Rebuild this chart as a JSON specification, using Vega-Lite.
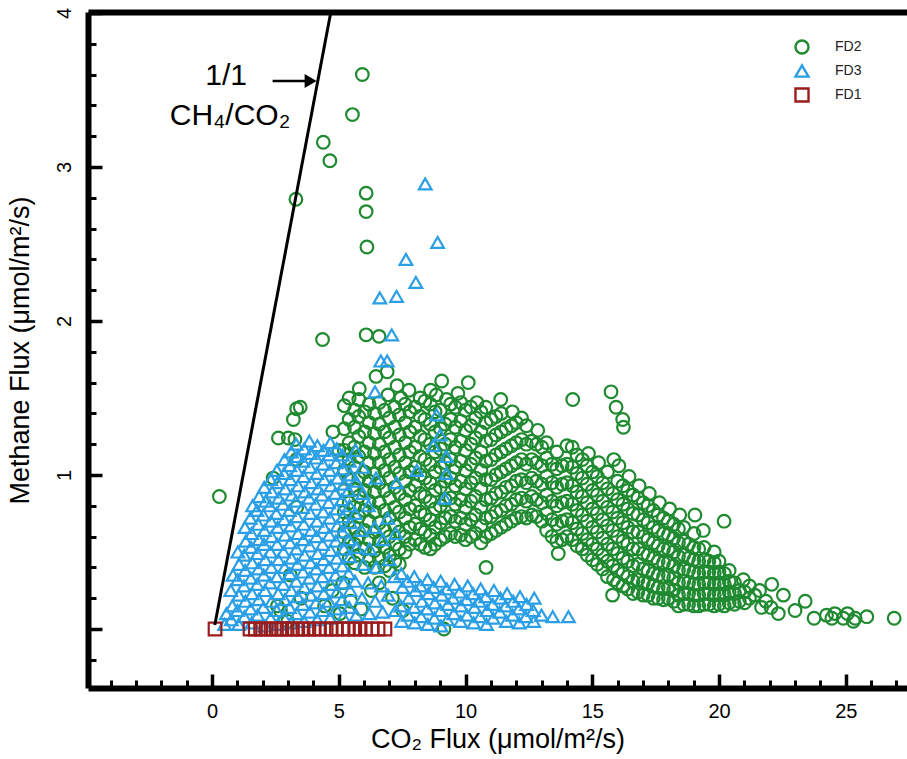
{
"$schema":"https://vega.github.io/schema/vega-lite/v6.json",
"width":819,"height":676,
"autosize":{"type":"none"},
"padding":{"left":88,"top":12,"right":0,"bottom":71},
"background":"white",
"config":{"view":{"stroke":null},"font":"Liberation Sans","axis":{"grid":false,"labelColor":"#000","titleColor":"#000","labelFont":"Liberation Sans","titleFont":"Liberation Sans","titleFontWeight":"normal","domainColor":"#000","tickColor":"#000","labelFlush":false,"labelOverlap":false}},
"datasets":{
"pts":[
{"s":"FD2","x":5.93,"y":3.6},{"s":"FD2","x":5.54,"y":3.34},{"s":"FD2","x":4.39,"y":3.16},{"s":"FD2","x":4.65,"y":3.04},{"s":"FD2","x":3.31,"y":2.79},{"s":"FD2","x":6.08,"y":2.83},{"s":"FD2","x":6.08,"y":2.71},{"s":"FD2","x":6.11,"y":2.48},{"s":"FD2","x":4.36,"y":1.88},{"s":"FD2","x":6.08,"y":1.91},{"s":"FD2","x":6.59,"y":1.9},{"s":"FD2","x":6.91,"y":1.67},{"s":"FD2","x":6.47,"y":1.64},{"s":"FD2","x":5.81,"y":1.56},{"s":"FD2","x":3.48,"y":1.44},{"s":"FD2","x":6.94,"y":1.52},{"s":"FD2","x":7.77,"y":1.55},{"s":"FD2","x":8.62,"y":1.55},{"s":"FD2","x":9.06,"y":1.61},{"s":"FD2","x":10.11,"y":1.6},{"s":"FD2","x":9.25,"y":1.49},{"s":"FD2","x":11.39,"y":1.49},{"s":"FD2","x":14.23,"y":1.49},{"s":"FD2","x":15.74,"y":1.54},{"s":"FD2","x":15.94,"y":1.44},{"s":"FD2","x":16.2,"y":1.36},{"s":"FD2","x":16.23,"y":1.31},{"s":"FD2","x":13.66,"y":0.49},{"s":"FD2","x":10.81,"y":0.4},{"s":"FD2","x":15.84,"y":0.32},{"s":"FD2","x":15.8,"y":0.22},{"s":"FD2","x":20.2,"y":0.7},{"s":"FD2","x":0.29,"y":0.86},{"s":"FD2","x":3.34,"y":1.43},{"s":"FD2","x":3.21,"y":1.36},{"s":"FD2","x":2.62,"y":1.24},{"s":"FD2","x":3.01,"y":1.24},{"s":"FD2","x":3.27,"y":1.23},{"s":"FD2","x":3.34,"y":1.1},{"s":"FD2","x":2.41,"y":0.98},{"s":"FD2","x":9.15,"y":0.0},
{"s":"FD2","x":19.05,"y":0.74},{"s":"FD2","x":19.38,"y":0.64},{"s":"FD2","x":22.54,"y":0.22},{"s":"FD2","x":22.34,"y":0.1},{"s":"FD2","x":23.4,"y":0.18},{"s":"FD2","x":23.75,"y":0.07},{"s":"FD2","x":24.57,"y":0.1},{"s":"FD2","x":24.9,"y":0.07},{"s":"FD2","x":25.3,"y":0.05},{"s":"FD2","x":25.83,"y":0.08},{"s":"FD2","x":26.91,"y":0.07},{"s":"FD2","x":24.45,"y":0.07},{"s":"FD2","x":25.37,"y":0.07},{"s":"FD2","x":22.08,"y":0.29},{"s":"FD2","x":21.68,"y":0.14},{"s":"FD2","x":20.96,"y":0.32},{"s":"FD2","x":23.0,"y":0.12},{"s":"FD2","x":25.07,"y":0.1},{"s":"FD2","x":24.24,"y":0.09},
{"s":"FD2","x":2.7,"y":0.12},{"s":"FD2","x":2.99,"y":0.05},{"s":"FD2","x":3.51,"y":0.2},{"s":"FD2","x":4.44,"y":0.15},{"s":"FD2","x":4.75,"y":0.25},{"s":"FD2","x":5.16,"y":0.3},{"s":"FD2","x":5.05,"y":0.1},{"s":"FD2","x":3.09,"y":0.35},{"s":"FD2","x":5.47,"y":0.18},{"s":"FD2","x":5.88,"y":0.13},{"s":"FD2","x":6.29,"y":0.25},{"s":"FD2","x":3.34,"y":0.79},{"s":"FD2","x":2.58,"y":0.15},{"s":"FD2","x":6.6,"y":0.3},{"s":"FD2","x":7.12,"y":0.2},{"s":"FD2","x":7.53,"y":0.12},
{"s":"FD2","x":4.77,"y":1.28},{"s":"FD2","x":5.0,"y":1.16},
{"s":"FD2","x":5.22,"y":0.52},{"s":"FD2","x":5.22,"y":0.63},{"s":"FD2","x":5.22,"y":0.76},{"s":"FD2","x":5.22,"y":0.9},{"s":"FD2","x":5.22,"y":1.03},{"s":"FD2","x":5.22,"y":1.16},{"s":"FD2","x":5.22,"y":1.3},{"s":"FD2","x":5.22,"y":1.45},
{"s":"FD2","x":5.41,"y":0.46},{"s":"FD2","x":5.41,"y":0.57},{"s":"FD2","x":5.41,"y":0.7},{"s":"FD2","x":5.41,"y":0.82},{"s":"FD2","x":5.41,"y":0.97},{"s":"FD2","x":5.41,"y":1.1},{"s":"FD2","x":5.41,"y":1.21},{"s":"FD2","x":5.41,"y":1.36},{"s":"FD2","x":5.41,"y":1.5},
{"s":"FD2","x":5.62,"y":0.43},{"s":"FD2","x":5.62,"y":0.55},{"s":"FD2","x":5.62,"y":0.66},{"s":"FD2","x":5.62,"y":0.79},{"s":"FD2","x":5.62,"y":0.91},{"s":"FD2","x":5.62,"y":1.05},{"s":"FD2","x":5.62,"y":1.18},{"s":"FD2","x":5.62,"y":1.31},{"s":"FD2","x":5.62,"y":1.42},
{"s":"FD2","x":5.79,"y":0.48},{"s":"FD2","x":5.79,"y":0.6},{"s":"FD2","x":5.79,"y":0.73},{"s":"FD2","x":5.79,"y":0.86},{"s":"FD2","x":5.79,"y":0.98},{"s":"FD2","x":5.79,"y":1.12},{"s":"FD2","x":5.79,"y":1.25},{"s":"FD2","x":5.79,"y":1.38},{"s":"FD2","x":5.79,"y":1.49},
{"s":"FD2","x":6.02,"y":0.4},{"s":"FD2","x":6.02,"y":0.52},{"s":"FD2","x":6.02,"y":0.64},{"s":"FD2","x":6.02,"y":0.77},{"s":"FD2","x":6.02,"y":0.9},{"s":"FD2","x":6.02,"y":1.02},{"s":"FD2","x":6.02,"y":1.15},{"s":"FD2","x":6.02,"y":1.28},{"s":"FD2","x":6.02,"y":1.41},
{"s":"FD2","x":6.2,"y":0.45},{"s":"FD2","x":6.2,"y":0.58},{"s":"FD2","x":6.2,"y":0.7},{"s":"FD2","x":6.2,"y":0.83},{"s":"FD2","x":6.2,"y":0.96},{"s":"FD2","x":6.2,"y":1.08},{"s":"FD2","x":6.2,"y":1.21},{"s":"FD2","x":6.2,"y":1.34},{"s":"FD2","x":6.2,"y":1.46},
{"s":"FD2","x":6.41,"y":0.4},{"s":"FD2","x":6.41,"y":0.51},{"s":"FD2","x":6.41,"y":0.63},{"s":"FD2","x":6.41,"y":0.76},{"s":"FD2","x":6.41,"y":0.89},{"s":"FD2","x":6.41,"y":1.01},{"s":"FD2","x":6.41,"y":1.14},{"s":"FD2","x":6.41,"y":1.27},{"s":"FD2","x":6.41,"y":1.4},
{"s":"FD2","x":6.6,"y":0.46},{"s":"FD2","x":6.6,"y":0.57},{"s":"FD2","x":6.6,"y":0.69},{"s":"FD2","x":6.6,"y":0.82},{"s":"FD2","x":6.6,"y":0.95},{"s":"FD2","x":6.6,"y":1.08},{"s":"FD2","x":6.6,"y":1.2},{"s":"FD2","x":6.6,"y":1.33},{"s":"FD2","x":6.6,"y":1.47},
{"s":"FD2","x":6.81,"y":0.41},{"s":"FD2","x":6.81,"y":0.53},{"s":"FD2","x":6.81,"y":0.64},{"s":"FD2","x":6.81,"y":0.77},{"s":"FD2","x":6.81,"y":0.9},{"s":"FD2","x":6.81,"y":1.03},{"s":"FD2","x":6.81,"y":1.15},{"s":"FD2","x":6.81,"y":1.28},{"s":"FD2","x":6.81,"y":1.42},
{"s":"FD2","x":7.0,"y":0.38},{"s":"FD2","x":7.0,"y":0.48},{"s":"FD2","x":7.0,"y":0.6},{"s":"FD2","x":7.0,"y":0.72},{"s":"FD2","x":7.0,"y":0.85},{"s":"FD2","x":7.0,"y":0.98},{"s":"FD2","x":7.0,"y":1.1},{"s":"FD2","x":7.0,"y":1.24},{"s":"FD2","x":7.0,"y":1.37},
{"s":"FD2","x":7.21,"y":0.44},{"s":"FD2","x":7.21,"y":0.55},{"s":"FD2","x":7.21,"y":0.67},{"s":"FD2","x":7.21,"y":0.79},{"s":"FD2","x":7.21,"y":0.92},{"s":"FD2","x":7.21,"y":1.05},{"s":"FD2","x":7.21,"y":1.18},{"s":"FD2","x":7.21,"y":1.31},{"s":"FD2","x":7.21,"y":1.44},{"s":"FD2","x":7.3,"y":1.58},
{"s":"FD2","x":7.39,"y":0.42},{"s":"FD2","x":7.39,"y":0.52},{"s":"FD2","x":7.39,"y":0.63},{"s":"FD2","x":7.39,"y":0.76},{"s":"FD2","x":7.39,"y":0.88},{"s":"FD2","x":7.39,"y":1.01},{"s":"FD2","x":7.39,"y":1.13},{"s":"FD2","x":7.39,"y":1.26},{"s":"FD2","x":7.39,"y":1.39},{"s":"FD2","x":7.45,"y":1.5},
{"s":"FD2","x":7.62,"y":0.5},{"s":"FD2","x":7.62,"y":0.6},{"s":"FD2","x":7.62,"y":0.72},{"s":"FD2","x":7.62,"y":0.84},{"s":"FD2","x":7.62,"y":0.96},{"s":"FD2","x":7.62,"y":1.08},{"s":"FD2","x":7.62,"y":1.21},{"s":"FD2","x":7.62,"y":1.34},{"s":"FD2","x":7.62,"y":1.46},
{"s":"FD2","x":7.8,"y":0.55},{"s":"FD2","x":7.8,"y":0.66},{"s":"FD2","x":7.8,"y":0.78},{"s":"FD2","x":7.8,"y":0.9},{"s":"FD2","x":7.8,"y":1.02},{"s":"FD2","x":7.8,"y":1.15},{"s":"FD2","x":7.8,"y":1.28},{"s":"FD2","x":7.8,"y":1.41},
{"s":"FD2","x":8.01,"y":0.58},{"s":"FD2","x":8.01,"y":0.68},{"s":"FD2","x":8.01,"y":0.8},{"s":"FD2","x":8.01,"y":0.93},{"s":"FD2","x":8.01,"y":1.05},{"s":"FD2","x":8.01,"y":1.18},{"s":"FD2","x":8.01,"y":1.31},{"s":"FD2","x":8.01,"y":1.44},
{"s":"FD2","x":8.21,"y":0.55},{"s":"FD2","x":8.21,"y":0.65},{"s":"FD2","x":8.21,"y":0.76},{"s":"FD2","x":8.21,"y":0.88},{"s":"FD2","x":8.21,"y":1.0},{"s":"FD2","x":8.21,"y":1.12},{"s":"FD2","x":8.21,"y":1.25},{"s":"FD2","x":8.21,"y":1.38},{"s":"FD2","x":8.21,"y":1.5},
{"s":"FD2","x":8.4,"y":0.53},{"s":"FD2","x":8.4,"y":0.63},{"s":"FD2","x":8.4,"y":0.74},{"s":"FD2","x":8.4,"y":0.86},{"s":"FD2","x":8.4,"y":0.98},{"s":"FD2","x":8.4,"y":1.1},{"s":"FD2","x":8.4,"y":1.23},{"s":"FD2","x":8.4,"y":1.36},{"s":"FD2","x":8.4,"y":1.48},
{"s":"FD2","x":8.61,"y":0.52},{"s":"FD2","x":8.61,"y":0.61},{"s":"FD2","x":8.61,"y":0.71},{"s":"FD2","x":8.61,"y":0.83},{"s":"FD2","x":8.61,"y":0.95},{"s":"FD2","x":8.61,"y":1.07},{"s":"FD2","x":8.61,"y":1.2},{"s":"FD2","x":8.61,"y":1.33},{"s":"FD2","x":8.61,"y":1.46},
{"s":"FD2","x":8.8,"y":0.55},{"s":"FD2","x":8.8,"y":0.66},{"s":"FD2","x":8.8,"y":0.78},{"s":"FD2","x":8.8,"y":0.9},{"s":"FD2","x":8.8,"y":1.02},{"s":"FD2","x":8.8,"y":1.15},{"s":"FD2","x":8.8,"y":1.28},{"s":"FD2","x":8.8,"y":1.41},{"s":"FD2","x":8.85,"y":1.52},
{"s":"FD2","x":9.01,"y":0.58},{"s":"FD2","x":9.01,"y":0.69},{"s":"FD2","x":9.01,"y":0.8},{"s":"FD2","x":9.01,"y":0.92},{"s":"FD2","x":9.01,"y":1.05},{"s":"FD2","x":9.01,"y":1.17},{"s":"FD2","x":9.01,"y":1.3},{"s":"FD2","x":9.01,"y":1.42},
{"s":"FD2","x":9.2,"y":0.6},{"s":"FD2","x":9.2,"y":0.72},{"s":"FD2","x":9.2,"y":0.84},{"s":"FD2","x":9.2,"y":0.96},{"s":"FD2","x":9.2,"y":1.08},{"s":"FD2","x":9.2,"y":1.2},{"s":"FD2","x":9.2,"y":1.33},
{"s":"FD2","x":9.41,"y":0.62},{"s":"FD2","x":9.41,"y":0.73},{"s":"FD2","x":9.41,"y":0.85},{"s":"FD2","x":9.41,"y":0.98},{"s":"FD2","x":9.41,"y":1.1},{"s":"FD2","x":9.41,"y":1.23},{"s":"FD2","x":9.41,"y":1.36},{"s":"FD2","x":9.41,"y":1.46},
{"s":"FD2","x":9.6,"y":0.6},{"s":"FD2","x":9.6,"y":0.7},{"s":"FD2","x":9.6,"y":0.81},{"s":"FD2","x":9.6,"y":0.93},{"s":"FD2","x":9.6,"y":1.05},{"s":"FD2","x":9.6,"y":1.18},{"s":"FD2","x":9.6,"y":1.31},{"s":"FD2","x":9.6,"y":1.44},{"s":"FD2","x":9.7,"y":1.53},
{"s":"FD2","x":9.81,"y":0.61},{"s":"FD2","x":9.81,"y":0.72},{"s":"FD2","x":9.81,"y":0.84},{"s":"FD2","x":9.81,"y":0.96},{"s":"FD2","x":9.81,"y":1.09},{"s":"FD2","x":9.81,"y":1.22},{"s":"FD2","x":9.81,"y":1.35},{"s":"FD2","x":9.81,"y":1.47},
{"s":"FD2","x":10.0,"y":0.58},{"s":"FD2","x":10.0,"y":0.68},{"s":"FD2","x":10.0,"y":0.79},{"s":"FD2","x":10.0,"y":0.91},{"s":"FD2","x":10.0,"y":1.03},{"s":"FD2","x":10.0,"y":1.16},{"s":"FD2","x":10.0,"y":1.29},{"s":"FD2","x":10.0,"y":1.42},
{"s":"FD2","x":10.21,"y":0.6},{"s":"FD2","x":10.21,"y":0.71},{"s":"FD2","x":10.21,"y":0.83},{"s":"FD2","x":10.21,"y":0.95},{"s":"FD2","x":10.21,"y":1.07},{"s":"FD2","x":10.21,"y":1.2},{"s":"FD2","x":10.21,"y":1.32},{"s":"FD2","x":10.21,"y":1.44},
{"s":"FD2","x":10.4,"y":0.62},{"s":"FD2","x":10.4,"y":0.74},{"s":"FD2","x":10.4,"y":0.86},{"s":"FD2","x":10.4,"y":0.98},{"s":"FD2","x":10.4,"y":1.11},{"s":"FD2","x":10.4,"y":1.24},{"s":"FD2","x":10.4,"y":1.37},{"s":"FD2","x":10.45,"y":1.47},
{"s":"FD2","x":10.61,"y":0.56},{"s":"FD2","x":10.61,"y":0.67},{"s":"FD2","x":10.61,"y":0.79},{"s":"FD2","x":10.61,"y":0.91},{"s":"FD2","x":10.61,"y":1.03},{"s":"FD2","x":10.61,"y":1.15},{"s":"FD2","x":10.61,"y":1.28},{"s":"FD2","x":10.61,"y":1.41},
{"s":"FD2","x":10.8,"y":0.6},{"s":"FD2","x":10.8,"y":0.72},{"s":"FD2","x":10.8,"y":0.84},{"s":"FD2","x":10.8,"y":0.97},{"s":"FD2","x":10.8,"y":1.09},{"s":"FD2","x":10.8,"y":1.22},{"s":"FD2","x":10.8,"y":1.34},{"s":"FD2","x":10.8,"y":1.44},
{"s":"FD2","x":11.01,"y":0.62},{"s":"FD2","x":11.01,"y":0.73},{"s":"FD2","x":11.01,"y":0.85},{"s":"FD2","x":11.01,"y":0.97},{"s":"FD2","x":11.01,"y":1.1},{"s":"FD2","x":11.01,"y":1.23},{"s":"FD2","x":11.01,"y":1.36},
{"s":"FD2","x":11.2,"y":0.64},{"s":"FD2","x":11.2,"y":0.76},{"s":"FD2","x":11.2,"y":0.88},{"s":"FD2","x":11.2,"y":1.0},{"s":"FD2","x":11.2,"y":1.13},{"s":"FD2","x":11.2,"y":1.26},{"s":"FD2","x":11.2,"y":1.38},
{"s":"FD2","x":11.41,"y":0.66},{"s":"FD2","x":11.41,"y":0.77},{"s":"FD2","x":11.41,"y":0.89},{"s":"FD2","x":11.41,"y":1.02},{"s":"FD2","x":11.41,"y":1.15},{"s":"FD2","x":11.41,"y":1.28},{"s":"FD2","x":11.41,"y":1.4},
{"s":"FD2","x":11.6,"y":0.68},{"s":"FD2","x":11.6,"y":0.8},{"s":"FD2","x":11.6,"y":0.92},{"s":"FD2","x":11.6,"y":1.04},{"s":"FD2","x":11.6,"y":1.17},{"s":"FD2","x":11.6,"y":1.3},
{"s":"FD2","x":11.81,"y":0.7},{"s":"FD2","x":11.81,"y":0.81},{"s":"FD2","x":11.81,"y":0.93},{"s":"FD2","x":11.81,"y":1.06},{"s":"FD2","x":11.81,"y":1.19},{"s":"FD2","x":11.81,"y":1.32},{"s":"FD2","x":11.85,"y":1.41},
{"s":"FD2","x":12.0,"y":0.72},{"s":"FD2","x":12.0,"y":0.84},{"s":"FD2","x":12.0,"y":0.96},{"s":"FD2","x":12.0,"y":1.08},{"s":"FD2","x":12.0,"y":1.21},{"s":"FD2","x":12.0,"y":1.34},
{"s":"FD2","x":12.21,"y":0.73},{"s":"FD2","x":12.21,"y":0.85},{"s":"FD2","x":12.21,"y":0.97},{"s":"FD2","x":12.21,"y":1.1},{"s":"FD2","x":12.21,"y":1.23},{"s":"FD2","x":12.21,"y":1.37},
{"s":"FD2","x":12.4,"y":0.72},{"s":"FD2","x":12.4,"y":0.83},{"s":"FD2","x":12.4,"y":0.95},{"s":"FD2","x":12.4,"y":1.07},{"s":"FD2","x":12.4,"y":1.2},{"s":"FD2","x":12.4,"y":1.32},
{"s":"FD2","x":12.61,"y":0.74},{"s":"FD2","x":12.61,"y":0.86},{"s":"FD2","x":12.61,"y":0.98},{"s":"FD2","x":12.61,"y":1.1},{"s":"FD2","x":12.61,"y":1.22},
{"s":"FD2","x":12.8,"y":0.73},{"s":"FD2","x":12.8,"y":0.84},{"s":"FD2","x":12.8,"y":0.96},{"s":"FD2","x":12.8,"y":1.08},{"s":"FD2","x":12.8,"y":1.2},{"s":"FD2","x":12.85,"y":1.29},
{"s":"FD2","x":13.01,"y":0.7},{"s":"FD2","x":13.01,"y":0.82},{"s":"FD2","x":13.01,"y":0.94},{"s":"FD2","x":13.01,"y":1.06},{"s":"FD2","x":13.01,"y":1.18},
{"s":"FD2","x":13.2,"y":0.64},{"s":"FD2","x":13.2,"y":0.75},{"s":"FD2","x":13.2,"y":0.87},{"s":"FD2","x":13.2,"y":0.99},{"s":"FD2","x":13.2,"y":1.11},{"s":"FD2","x":13.2,"y":1.21},
{"s":"FD2","x":13.41,"y":0.6},{"s":"FD2","x":13.41,"y":0.71},{"s":"FD2","x":13.41,"y":0.83},{"s":"FD2","x":13.41,"y":0.95},{"s":"FD2","x":13.41,"y":1.07},
{"s":"FD2","x":13.6,"y":0.57},{"s":"FD2","x":13.6,"y":0.68},{"s":"FD2","x":13.6,"y":0.8},{"s":"FD2","x":13.6,"y":0.92},{"s":"FD2","x":13.6,"y":1.04},{"s":"FD2","x":13.6,"y":1.15},
{"s":"FD2","x":13.81,"y":0.58},{"s":"FD2","x":13.81,"y":0.7},{"s":"FD2","x":13.81,"y":0.82},{"s":"FD2","x":13.81,"y":0.94},{"s":"FD2","x":13.81,"y":1.06},
{"s":"FD2","x":14.0,"y":0.6},{"s":"FD2","x":14.0,"y":0.71},{"s":"FD2","x":14.0,"y":0.83},{"s":"FD2","x":14.0,"y":0.95},{"s":"FD2","x":14.0,"y":1.07},{"s":"FD2","x":14.0,"y":1.19},
{"s":"FD2","x":14.21,"y":0.58},{"s":"FD2","x":14.21,"y":0.69},{"s":"FD2","x":14.21,"y":0.81},{"s":"FD2","x":14.21,"y":0.93},{"s":"FD2","x":14.21,"y":1.05},{"s":"FD2","x":14.21,"y":1.18},
{"s":"FD2","x":14.4,"y":0.54},{"s":"FD2","x":14.4,"y":0.65},{"s":"FD2","x":14.4,"y":0.77},{"s":"FD2","x":14.4,"y":0.89},{"s":"FD2","x":14.4,"y":1.01},{"s":"FD2","x":14.4,"y":1.13},
{"s":"FD2","x":14.61,"y":0.52},{"s":"FD2","x":14.61,"y":0.62},{"s":"FD2","x":14.61,"y":0.74},{"s":"FD2","x":14.61,"y":0.86},{"s":"FD2","x":14.61,"y":0.98},{"s":"FD2","x":14.61,"y":1.1},
{"s":"FD2","x":14.8,"y":0.48},{"s":"FD2","x":14.8,"y":0.58},{"s":"FD2","x":14.8,"y":0.7},{"s":"FD2","x":14.8,"y":0.82},{"s":"FD2","x":14.8,"y":0.94},{"s":"FD2","x":14.8,"y":1.06},{"s":"FD2","x":14.85,"y":1.14},
{"s":"FD2","x":15.01,"y":0.45},{"s":"FD2","x":15.01,"y":0.55},{"s":"FD2","x":15.01,"y":0.66},{"s":"FD2","x":15.01,"y":0.78},{"s":"FD2","x":15.01,"y":0.9},{"s":"FD2","x":15.01,"y":1.02},
{"s":"FD2","x":15.2,"y":0.42},{"s":"FD2","x":15.2,"y":0.52},{"s":"FD2","x":15.2,"y":0.63},{"s":"FD2","x":15.2,"y":0.75},{"s":"FD2","x":15.2,"y":0.87},{"s":"FD2","x":15.2,"y":0.99},{"s":"FD2","x":15.25,"y":1.08},
{"s":"FD2","x":15.41,"y":0.39},{"s":"FD2","x":15.41,"y":0.48},{"s":"FD2","x":15.41,"y":0.59},{"s":"FD2","x":15.41,"y":0.71},{"s":"FD2","x":15.41,"y":0.83},{"s":"FD2","x":15.41,"y":0.95},
{"s":"FD2","x":15.6,"y":0.34},{"s":"FD2","x":15.6,"y":0.44},{"s":"FD2","x":15.6,"y":0.55},{"s":"FD2","x":15.6,"y":0.67},{"s":"FD2","x":15.6,"y":0.79},{"s":"FD2","x":15.6,"y":0.91},{"s":"FD2","x":15.6,"y":1.02},
{"s":"FD2","x":15.81,"y":0.41},{"s":"FD2","x":15.81,"y":0.52},{"s":"FD2","x":15.81,"y":0.64},{"s":"FD2","x":15.81,"y":0.76},{"s":"FD2","x":15.81,"y":0.88},{"s":"FD2","x":15.85,"y":1.1},
{"s":"FD2","x":16.0,"y":0.3},{"s":"FD2","x":16.0,"y":0.38},{"s":"FD2","x":16.0,"y":0.49},{"s":"FD2","x":16.0,"y":0.6},{"s":"FD2","x":16.0,"y":0.72},{"s":"FD2","x":16.0,"y":0.84},{"s":"FD2","x":16.0,"y":0.96},{"s":"FD2","x":16.05,"y":1.06},
{"s":"FD2","x":16.21,"y":0.28},{"s":"FD2","x":16.21,"y":0.36},{"s":"FD2","x":16.21,"y":0.46},{"s":"FD2","x":16.21,"y":0.57},{"s":"FD2","x":16.21,"y":0.69},{"s":"FD2","x":16.21,"y":0.81},{"s":"FD2","x":16.21,"y":0.93},
{"s":"FD2","x":16.4,"y":0.26},{"s":"FD2","x":16.4,"y":0.34},{"s":"FD2","x":16.4,"y":0.44},{"s":"FD2","x":16.4,"y":0.55},{"s":"FD2","x":16.4,"y":0.66},{"s":"FD2","x":16.4,"y":0.78},{"s":"FD2","x":16.4,"y":0.9},{"s":"FD2","x":16.45,"y":0.99},
{"s":"FD2","x":16.61,"y":0.23},{"s":"FD2","x":16.61,"y":0.31},{"s":"FD2","x":16.61,"y":0.41},{"s":"FD2","x":16.61,"y":0.52},{"s":"FD2","x":16.61,"y":0.63},{"s":"FD2","x":16.61,"y":0.75},{"s":"FD2","x":16.61,"y":0.87},
{"s":"FD2","x":16.8,"y":0.24},{"s":"FD2","x":16.8,"y":0.32},{"s":"FD2","x":16.8,"y":0.42},{"s":"FD2","x":16.8,"y":0.52},{"s":"FD2","x":16.8,"y":0.63},{"s":"FD2","x":16.8,"y":0.74},{"s":"FD2","x":16.8,"y":0.85},{"s":"FD2","x":16.85,"y":0.93},
{"s":"FD2","x":17.01,"y":0.22},{"s":"FD2","x":17.01,"y":0.3},{"s":"FD2","x":17.01,"y":0.39},{"s":"FD2","x":17.01,"y":0.49},{"s":"FD2","x":17.01,"y":0.6},{"s":"FD2","x":17.01,"y":0.71},{"s":"FD2","x":17.01,"y":0.82},
{"s":"FD2","x":17.2,"y":0.22},{"s":"FD2","x":17.2,"y":0.3},{"s":"FD2","x":17.2,"y":0.38},{"s":"FD2","x":17.2,"y":0.48},{"s":"FD2","x":17.2,"y":0.58},{"s":"FD2","x":17.2,"y":0.69},{"s":"FD2","x":17.2,"y":0.8},{"s":"FD2","x":17.25,"y":0.88},
{"s":"FD2","x":17.41,"y":0.2},{"s":"FD2","x":17.41,"y":0.28},{"s":"FD2","x":17.41,"y":0.36},{"s":"FD2","x":17.41,"y":0.46},{"s":"FD2","x":17.41,"y":0.56},{"s":"FD2","x":17.41,"y":0.66},{"s":"FD2","x":17.41,"y":0.77},
{"s":"FD2","x":17.6,"y":0.2},{"s":"FD2","x":17.6,"y":0.27},{"s":"FD2","x":17.6,"y":0.35},{"s":"FD2","x":17.6,"y":0.44},{"s":"FD2","x":17.6,"y":0.54},{"s":"FD2","x":17.6,"y":0.64},{"s":"FD2","x":17.6,"y":0.74},{"s":"FD2","x":17.65,"y":0.82},
{"s":"FD2","x":17.81,"y":0.19},{"s":"FD2","x":17.81,"y":0.26},{"s":"FD2","x":17.81,"y":0.34},{"s":"FD2","x":17.81,"y":0.43},{"s":"FD2","x":17.81,"y":0.52},{"s":"FD2","x":17.81,"y":0.62},{"s":"FD2","x":17.81,"y":0.72},
{"s":"FD2","x":18.0,"y":0.2},{"s":"FD2","x":18.0,"y":0.27},{"s":"FD2","x":18.0,"y":0.35},{"s":"FD2","x":18.0,"y":0.43},{"s":"FD2","x":18.0,"y":0.52},{"s":"FD2","x":18.0,"y":0.61},{"s":"FD2","x":18.0,"y":0.7},{"s":"FD2","x":18.05,"y":0.78},
{"s":"FD2","x":18.21,"y":0.18},{"s":"FD2","x":18.21,"y":0.25},{"s":"FD2","x":18.21,"y":0.33},{"s":"FD2","x":18.21,"y":0.41},{"s":"FD2","x":18.21,"y":0.5},{"s":"FD2","x":18.21,"y":0.59},{"s":"FD2","x":18.21,"y":0.68},
{"s":"FD2","x":18.4,"y":0.15},{"s":"FD2","x":18.4,"y":0.22},{"s":"FD2","x":18.4,"y":0.3},{"s":"FD2","x":18.4,"y":0.38},{"s":"FD2","x":18.4,"y":0.47},{"s":"FD2","x":18.4,"y":0.56},{"s":"FD2","x":18.4,"y":0.65},{"s":"FD2","x":18.45,"y":0.74},
{"s":"FD2","x":18.61,"y":0.16},{"s":"FD2","x":18.61,"y":0.23},{"s":"FD2","x":18.61,"y":0.31},{"s":"FD2","x":18.61,"y":0.39},{"s":"FD2","x":18.61,"y":0.48},{"s":"FD2","x":18.61,"y":0.57},{"s":"FD2","x":18.61,"y":0.66},
{"s":"FD2","x":18.8,"y":0.16},{"s":"FD2","x":18.8,"y":0.23},{"s":"FD2","x":18.8,"y":0.3},{"s":"FD2","x":18.8,"y":0.38},{"s":"FD2","x":18.8,"y":0.46},{"s":"FD2","x":18.8,"y":0.55},
{"s":"FD2","x":19.01,"y":0.15},{"s":"FD2","x":19.01,"y":0.22},{"s":"FD2","x":19.01,"y":0.29},{"s":"FD2","x":19.01,"y":0.37},{"s":"FD2","x":19.01,"y":0.45},{"s":"FD2","x":19.01,"y":0.53},{"s":"FD2","x":19.01,"y":0.62},
{"s":"FD2","x":19.2,"y":0.15},{"s":"FD2","x":19.2,"y":0.22},{"s":"FD2","x":19.2,"y":0.29},{"s":"FD2","x":19.2,"y":0.36},{"s":"FD2","x":19.2,"y":0.44},{"s":"FD2","x":19.2,"y":0.52},
{"s":"FD2","x":19.41,"y":0.16},{"s":"FD2","x":19.41,"y":0.23},{"s":"FD2","x":19.41,"y":0.3},{"s":"FD2","x":19.41,"y":0.37},{"s":"FD2","x":19.41,"y":0.45},{"s":"FD2","x":19.41,"y":0.53},
{"s":"FD2","x":19.6,"y":0.16},{"s":"FD2","x":19.6,"y":0.23},{"s":"FD2","x":19.6,"y":0.3},{"s":"FD2","x":19.6,"y":0.37},{"s":"FD2","x":19.6,"y":0.44},
{"s":"FD2","x":19.81,"y":0.15},{"s":"FD2","x":19.81,"y":0.22},{"s":"FD2","x":19.81,"y":0.29},{"s":"FD2","x":19.81,"y":0.36},{"s":"FD2","x":19.81,"y":0.43},{"s":"FD2","x":19.81,"y":0.5},
{"s":"FD2","x":20.0,"y":0.16},{"s":"FD2","x":20.0,"y":0.23},{"s":"FD2","x":20.0,"y":0.3},{"s":"FD2","x":20.0,"y":0.37},{"s":"FD2","x":20.0,"y":0.44},
{"s":"FD2","x":20.21,"y":0.15},{"s":"FD2","x":20.21,"y":0.22},{"s":"FD2","x":20.21,"y":0.29},{"s":"FD2","x":20.21,"y":0.36},
{"s":"FD2","x":20.4,"y":0.17},{"s":"FD2","x":20.4,"y":0.24},{"s":"FD2","x":20.4,"y":0.31},{"s":"FD2","x":20.4,"y":0.38},
{"s":"FD2","x":20.61,"y":0.16},{"s":"FD2","x":20.61,"y":0.23},{"s":"FD2","x":20.61,"y":0.3},
{"s":"FD2","x":20.8,"y":0.18},{"s":"FD2","x":20.8,"y":0.25},
{"s":"FD2","x":21.01,"y":0.17},{"s":"FD2","x":21.01,"y":0.24},
{"s":"FD2","x":21.2,"y":0.2},{"s":"FD2","x":21.2,"y":0.28},
{"s":"FD2","x":21.41,"y":0.22},{"s":"FD2","x":21.6,"y":0.25},{"s":"FD2","x":21.85,"y":0.18},{"s":"FD2","x":22.05,"y":0.14},
{"s":"FD3","x":0.5,"y":0.03},{"s":"FD3","x":0.57,"y":0.1},
{"s":"FD3","x":0.76,"y":0.06},{"s":"FD3","x":0.8,"y":0.15},{"s":"FD3","x":0.74,"y":0.25},{"s":"FD3","x":0.83,"y":0.35},
{"s":"FD3","x":1.05,"y":0.03},{"s":"FD3","x":1.0,"y":0.12},{"s":"FD3","x":1.06,"y":0.22},{"s":"FD3","x":1.01,"y":0.32},{"s":"FD3","x":1.07,"y":0.42},{"s":"FD3","x":1.02,"y":0.5},
{"s":"FD3","x":1.28,"y":0.08},{"s":"FD3","x":1.32,"y":0.18},{"s":"FD3","x":1.26,"y":0.28},{"s":"FD3","x":1.31,"y":0.38},{"s":"FD3","x":1.27,"y":0.48},{"s":"FD3","x":1.33,"y":0.57},{"s":"FD3","x":1.3,"y":0.66},
{"s":"FD3","x":1.57,"y":0.04},{"s":"FD3","x":1.52,"y":0.13},{"s":"FD3","x":1.58,"y":0.23},{"s":"FD3","x":1.53,"y":0.33},{"s":"FD3","x":1.59,"y":0.43},{"s":"FD3","x":1.54,"y":0.53},{"s":"FD3","x":1.56,"y":0.62},{"s":"FD3","x":1.51,"y":0.72},{"s":"FD3","x":1.6,"y":0.8},
{"s":"FD3","x":1.8,"y":0.09},{"s":"FD3","x":1.84,"y":0.19},{"s":"FD3","x":1.78,"y":0.29},{"s":"FD3","x":1.83,"y":0.39},{"s":"FD3","x":1.79,"y":0.49},{"s":"FD3","x":1.85,"y":0.58},{"s":"FD3","x":1.82,"y":0.68},{"s":"FD3","x":1.77,"y":0.77},{"s":"FD3","x":1.86,"y":0.86},
{"s":"FD3","x":2.08,"y":0.02},{"s":"FD3","x":2.03,"y":0.14},{"s":"FD3","x":2.09,"y":0.25},{"s":"FD3","x":2.04,"y":0.35},{"s":"FD3","x":2.1,"y":0.45},{"s":"FD3","x":2.05,"y":0.55},{"s":"FD3","x":2.07,"y":0.64},{"s":"FD3","x":2.02,"y":0.74},{"s":"FD3","x":2.11,"y":0.83},{"s":"FD3","x":2.06,"y":0.92},
{"s":"FD3","x":2.31,"y":0.07},{"s":"FD3","x":2.35,"y":0.18},{"s":"FD3","x":2.29,"y":0.3},{"s":"FD3","x":2.34,"y":0.4},{"s":"FD3","x":2.3,"y":0.5},{"s":"FD3","x":2.36,"y":0.6},{"s":"FD3","x":2.33,"y":0.7},{"s":"FD3","x":2.28,"y":0.8},{"s":"FD3","x":2.37,"y":0.89},{"s":"FD3","x":2.32,"y":0.97},
{"s":"FD3","x":2.6,"y":0.03},{"s":"FD3","x":2.55,"y":0.12},{"s":"FD3","x":2.61,"y":0.23},{"s":"FD3","x":2.56,"y":0.34},{"s":"FD3","x":2.62,"y":0.45},{"s":"FD3","x":2.57,"y":0.55},{"s":"FD3","x":2.59,"y":0.66},{"s":"FD3","x":2.54,"y":0.75},{"s":"FD3","x":2.63,"y":0.85},{"s":"FD3","x":2.58,"y":0.95},{"s":"FD3","x":2.56,"y":1.03},
{"s":"FD3","x":2.83,"y":0.08},{"s":"FD3","x":2.87,"y":0.19},{"s":"FD3","x":2.81,"y":0.29},{"s":"FD3","x":2.86,"y":0.4},{"s":"FD3","x":2.82,"y":0.5},{"s":"FD3","x":2.88,"y":0.61},{"s":"FD3","x":2.85,"y":0.71},{"s":"FD3","x":2.8,"y":0.81},{"s":"FD3","x":2.89,"y":0.91},{"s":"FD3","x":2.84,"y":1.01},{"s":"FD3","x":2.86,"y":1.1},
{"s":"FD3","x":3.12,"y":0.04},{"s":"FD3","x":3.06,"y":0.14},{"s":"FD3","x":3.13,"y":0.25},{"s":"FD3","x":3.07,"y":0.36},{"s":"FD3","x":3.14,"y":0.46},{"s":"FD3","x":3.08,"y":0.56},{"s":"FD3","x":3.1,"y":0.67},{"s":"FD3","x":3.05,"y":0.77},{"s":"FD3","x":3.15,"y":0.87},{"s":"FD3","x":3.09,"y":0.97},{"s":"FD3","x":3.07,"y":1.06},{"s":"FD3","x":3.13,"y":1.15},
{"s":"FD3","x":3.34,"y":0.1},{"s":"FD3","x":3.38,"y":0.21},{"s":"FD3","x":3.32,"y":0.31},{"s":"FD3","x":3.37,"y":0.42},{"s":"FD3","x":3.33,"y":0.52},{"s":"FD3","x":3.39,"y":0.62},{"s":"FD3","x":3.36,"y":0.73},{"s":"FD3","x":3.31,"y":0.83},{"s":"FD3","x":3.4,"y":0.93},{"s":"FD3","x":3.35,"y":1.03},{"s":"FD3","x":3.37,"y":1.12},{"s":"FD3","x":3.32,"y":1.2},
{"s":"FD3","x":3.63,"y":0.05},{"s":"FD3","x":3.58,"y":0.16},{"s":"FD3","x":3.64,"y":0.27},{"s":"FD3","x":3.59,"y":0.37},{"s":"FD3","x":3.65,"y":0.48},{"s":"FD3","x":3.6,"y":0.58},{"s":"FD3","x":3.62,"y":0.68},{"s":"FD3","x":3.57,"y":0.79},{"s":"FD3","x":3.66,"y":0.89},{"s":"FD3","x":3.61,"y":0.99},{"s":"FD3","x":3.59,"y":1.09},{"s":"FD3","x":3.64,"y":1.17},
{"s":"FD3","x":3.86,"y":0.11},{"s":"FD3","x":3.9,"y":0.22},{"s":"FD3","x":3.84,"y":0.33},{"s":"FD3","x":3.89,"y":0.43},{"s":"FD3","x":3.85,"y":0.54},{"s":"FD3","x":3.91,"y":0.64},{"s":"FD3","x":3.88,"y":0.75},{"s":"FD3","x":3.83,"y":0.85},{"s":"FD3","x":3.92,"y":0.95},{"s":"FD3","x":3.87,"y":1.05},{"s":"FD3","x":3.89,"y":1.14},{"s":"FD3","x":3.84,"y":1.22},
{"s":"FD3","x":4.15,"y":0.06},{"s":"FD3","x":4.1,"y":0.17},{"s":"FD3","x":4.16,"y":0.28},{"s":"FD3","x":4.11,"y":0.39},{"s":"FD3","x":4.17,"y":0.49},{"s":"FD3","x":4.12,"y":0.6},{"s":"FD3","x":4.14,"y":0.7},{"s":"FD3","x":4.09,"y":0.81},{"s":"FD3","x":4.18,"y":0.91},{"s":"FD3","x":4.13,"y":1.01},{"s":"FD3","x":4.11,"y":1.11},{"s":"FD3","x":4.16,"y":1.19},
{"s":"FD3","x":4.37,"y":0.12},{"s":"FD3","x":4.41,"y":0.23},{"s":"FD3","x":4.35,"y":0.34},{"s":"FD3","x":4.4,"y":0.45},{"s":"FD3","x":4.36,"y":0.55},{"s":"FD3","x":4.42,"y":0.66},{"s":"FD3","x":4.39,"y":0.76},{"s":"FD3","x":4.34,"y":0.87},{"s":"FD3","x":4.43,"y":0.97},{"s":"FD3","x":4.38,"y":1.07},{"s":"FD3","x":4.4,"y":1.16},
{"s":"FD3","x":4.66,"y":0.07},{"s":"FD3","x":4.61,"y":0.18},{"s":"FD3","x":4.67,"y":0.29},{"s":"FD3","x":4.62,"y":0.4},{"s":"FD3","x":4.68,"y":0.51},{"s":"FD3","x":4.63,"y":0.61},{"s":"FD3","x":4.65,"y":0.72},{"s":"FD3","x":4.6,"y":0.82},{"s":"FD3","x":4.69,"y":0.93},{"s":"FD3","x":4.64,"y":1.03},{"s":"FD3","x":4.62,"y":1.13},{"s":"FD3","x":4.67,"y":1.21},
{"s":"FD3","x":4.89,"y":0.13},{"s":"FD3","x":4.93,"y":0.24},{"s":"FD3","x":4.87,"y":0.35},{"s":"FD3","x":4.92,"y":0.46},{"s":"FD3","x":4.88,"y":0.57},{"s":"FD3","x":4.94,"y":0.67},{"s":"FD3","x":4.91,"y":0.78},{"s":"FD3","x":4.86,"y":0.88},{"s":"FD3","x":4.95,"y":0.98},{"s":"FD3","x":4.9,"y":1.08},{"s":"FD3","x":4.92,"y":1.17},
{"s":"FD3","x":5.18,"y":0.08},{"s":"FD3","x":5.13,"y":0.19},{"s":"FD3","x":5.19,"y":0.3},{"s":"FD3","x":5.14,"y":0.41},{"s":"FD3","x":5.2,"y":0.52},{"s":"FD3","x":5.15,"y":0.63},{"s":"FD3","x":5.17,"y":0.73},{"s":"FD3","x":5.12,"y":0.84},{"s":"FD3","x":5.21,"y":0.94},{"s":"FD3","x":5.16,"y":1.04},{"s":"FD3","x":5.14,"y":1.13},
{"s":"FD3","x":5.41,"y":0.14},{"s":"FD3","x":5.45,"y":0.25},{"s":"FD3","x":5.39,"y":0.36},{"s":"FD3","x":5.44,"y":0.47},{"s":"FD3","x":5.4,"y":0.58},{"s":"FD3","x":5.46,"y":0.69},{"s":"FD3","x":5.43,"y":0.8},{"s":"FD3","x":5.38,"y":0.9},{"s":"FD3","x":5.47,"y":1.0},{"s":"FD3","x":5.42,"y":1.09},
{"s":"FD3","x":5.69,"y":0.09},{"s":"FD3","x":5.64,"y":0.31},{"s":"FD3","x":5.7,"y":0.53},{"s":"FD3","x":5.65,"y":0.75},{"s":"FD3","x":5.68,"y":0.96},{"s":"FD3","x":5.67,"y":1.16},
{"s":"FD3","x":5.92,"y":0.2},{"s":"FD3","x":5.96,"y":0.42},{"s":"FD3","x":5.9,"y":0.64},{"s":"FD3","x":5.95,"y":0.88},{"s":"FD3","x":5.94,"y":1.05},
{"s":"FD3","x":6.21,"y":0.1},{"s":"FD3","x":6.16,"y":0.3},{"s":"FD3","x":6.22,"y":0.52},{"s":"FD3","x":6.17,"y":0.8},
{"s":"FD3","x":6.44,"y":0.18},{"s":"FD3","x":6.48,"y":0.4},{"s":"FD3","x":6.42,"y":0.66},{"s":"FD3","x":6.47,"y":0.98},
{"s":"FD3","x":6.73,"y":0.11},{"s":"FD3","x":6.68,"y":0.28},{"s":"FD3","x":6.74,"y":0.58},
{"s":"FD3","x":6.95,"y":0.22},{"s":"FD3","x":6.99,"y":0.45},{"s":"FD3","x":6.93,"y":0.72},
{"s":"FD3","x":7.24,"y":0.12},{"s":"FD3","x":7.19,"y":0.34},{"s":"FD3","x":7.25,"y":0.62},
{"s":"FD3","x":7.48,"y":0.05},{"s":"FD3","x":7.45,"y":0.15},{"s":"FD3","x":7.51,"y":0.27},{"s":"FD3","x":7.47,"y":0.36},
{"s":"FD3","x":7.74,"y":0.09},{"s":"FD3","x":7.76,"y":0.2},{"s":"FD3","x":7.71,"y":0.31},
{"s":"FD3","x":7.99,"y":0.04},{"s":"FD3","x":7.97,"y":0.14},{"s":"FD3","x":8.03,"y":0.25},{"s":"FD3","x":7.98,"y":0.34},
{"s":"FD3","x":8.25,"y":0.08},{"s":"FD3","x":8.28,"y":0.18},{"s":"FD3","x":8.23,"y":0.28},
{"s":"FD3","x":8.51,"y":0.03},{"s":"FD3","x":8.48,"y":0.13},{"s":"FD3","x":8.54,"y":0.23},{"s":"FD3","x":8.5,"y":0.32},
{"s":"FD3","x":8.77,"y":0.07},{"s":"FD3","x":8.79,"y":0.17},{"s":"FD3","x":8.74,"y":0.27},
{"s":"FD3","x":9.03,"y":0.02},{"s":"FD3","x":9.01,"y":0.12},{"s":"FD3","x":9.06,"y":0.22},{"s":"FD3","x":9.02,"y":0.31},
{"s":"FD3","x":9.28,"y":0.06},{"s":"FD3","x":9.31,"y":0.16},{"s":"FD3","x":9.26,"y":0.26},
{"s":"FD3","x":9.54,"y":0.1},{"s":"FD3","x":9.51,"y":0.2},{"s":"FD3","x":9.57,"y":0.29},
{"s":"FD3","x":9.8,"y":0.05},{"s":"FD3","x":9.82,"y":0.15},{"s":"FD3","x":9.77,"y":0.24},
{"s":"FD3","x":10.06,"y":0.09},{"s":"FD3","x":10.04,"y":0.19},{"s":"FD3","x":10.09,"y":0.28},
{"s":"FD3","x":10.32,"y":0.04},{"s":"FD3","x":10.35,"y":0.14},{"s":"FD3","x":10.3,"y":0.23},
{"s":"FD3","x":10.57,"y":0.08},{"s":"FD3","x":10.54,"y":0.18},{"s":"FD3","x":10.6,"y":0.26},
{"s":"FD3","x":10.83,"y":0.03},{"s":"FD3","x":10.85,"y":0.12},{"s":"FD3","x":10.8,"y":0.21},
{"s":"FD3","x":11.09,"y":0.07},{"s":"FD3","x":11.07,"y":0.16},{"s":"FD3","x":11.12,"y":0.25},
{"s":"FD3","x":11.35,"y":0.11},{"s":"FD3","x":11.38,"y":0.2},
{"s":"FD3","x":11.61,"y":0.05},{"s":"FD3","x":11.58,"y":0.15},{"s":"FD3","x":11.64,"y":0.23},
{"s":"FD3","x":11.86,"y":0.09},{"s":"FD3","x":11.88,"y":0.18},
{"s":"FD3","x":12.12,"y":0.04},{"s":"FD3","x":12.1,"y":0.13},{"s":"FD3","x":12.15,"y":0.21},
{"s":"FD3","x":12.38,"y":0.08},{"s":"FD3","x":12.41,"y":0.16},
{"s":"FD3","x":12.69,"y":0.05},{"s":"FD3","x":12.67,"y":0.12},{"s":"FD3","x":12.71,"y":0.2},
{"s":"FD3","x":13.0,"y":0.09},{"s":"FD3","x":13.44,"y":0.08},{"s":"FD3","x":14.06,"y":0.08},
{"s":"FD3","x":8.41,"y":2.89},{"s":"FD3","x":8.9,"y":2.51},{"s":"FD3","x":7.65,"y":2.4},{"s":"FD3","x":8.04,"y":2.25},{"s":"FD3","x":6.62,"y":2.15},{"s":"FD3","x":7.28,"y":2.16},{"s":"FD3","x":7.09,"y":1.91},{"s":"FD3","x":6.66,"y":1.74},{"s":"FD3","x":6.91,"y":1.74},{"s":"FD3","x":6.43,"y":1.54},{"s":"FD3","x":8.86,"y":1.39},{"s":"FD3","x":9.0,"y":1.26},{"s":"FD3","x":8.73,"y":1.19},{"s":"FD3","x":8.08,"y":1.03},{"s":"FD3","x":9.25,"y":1.01},{"s":"FD3","x":9.25,"y":1.12},{"s":"FD3","x":7.28,"y":0.95},{"s":"FD3","x":9.18,"y":0.85},
{"s":"FD1","x":0.12,"y":0},{"s":"FD1","x":1.5,"y":0},{"s":"FD1","x":1.71,"y":0},{"s":"FD1","x":1.92,"y":0},{"s":"FD1","x":2.13,"y":0},{"s":"FD1","x":2.33,"y":0},{"s":"FD1","x":2.54,"y":0},{"s":"FD1","x":2.75,"y":0},{"s":"FD1","x":2.96,"y":0},{"s":"FD1","x":3.17,"y":0},{"s":"FD1","x":3.38,"y":0},{"s":"FD1","x":3.59,"y":0},{"s":"FD1","x":3.82,"y":0},{"s":"FD1","x":4.03,"y":0},{"s":"FD1","x":4.24,"y":0},{"s":"FD1","x":4.5,"y":0},{"s":"FD1","x":4.7,"y":0},{"s":"FD1","x":4.91,"y":0},{"s":"FD1","x":5.17,"y":0},{"s":"FD1","x":5.38,"y":0},{"s":"FD1","x":5.63,"y":0},{"s":"FD1","x":5.84,"y":0},{"s":"FD1","x":6.05,"y":0},{"s":"FD1","x":6.3,"y":0},{"s":"FD1","x":6.55,"y":0},{"s":"FD1","x":6.82,"y":0}
]
},
"resolve":{"axis":{"x":"independent","y":"independent"}},
"layer":[
{"data":{"name":"pts"},
 "mark":{"type":"point","filled":false,"strokeWidth":2.2,"size":160,"opacity":1},
 "encoding":{
  "x":{"field":"x","type":"quantitative","scale":{"domain":[-4.892,27.416],"nice":false,"zero":false},
   "axis":{"orient":"bottom","values":[0,5,10,15,20,25],"ticks":false,"domain":false,"labelFontSize":20,"labelPadding":13,"title":"CO₂ Flux (μmol/m²/s)","titleFontSize":27,"titlePadding":5}},
  "y":{"field":"y","type":"quantitative","scale":{"domain":[-0.383,4.006],"nice":false,"zero":false},
   "axis":{"orient":"left","values":[1,2,3,4],"ticks":false,"domain":false,"labelFontSize":20,"labelAngle":-90,"labelAlign":"center","labelBaseline":"alphabetic","labelPadding":18,"title":"Methane Flux (μmol/m²/s)","titleFontSize":27,"titlePadding":20}},
  "color":{"field":"s","type":"nominal","scale":{"domain":["FD2","FD3","FD1"],"range":["#1f8a30","#2a9fe6","#9b1c1c"]},
   "legend":{"orient":"none","legendX":706,"legendY":27,"title":null,"labelFontSize":14,"labelColor":"#222","symbolSize":170,"symbolStrokeWidth":2.4,"rowPadding":1,"labelOffset":25,"padding":0}},
  "shape":{"field":"s","type":"nominal","scale":{"domain":["FD2","FD3","FD1"],"range":["circle","triangle-up","square"]},
   "legend":{"orient":"none","legendX":706,"legendY":27,"title":null,"labelFontSize":14,"labelColor":"#222","symbolSize":170,"symbolStrokeWidth":2.4,"rowPadding":1,"labelOffset":25,"padding":0}}
 }},
{"data":{"values":[{"x":0.11,"y":0.026,"x2":4.68,"y2":4.0}]},
 "mark":{"type":"rule","color":"black","strokeWidth":3},
 "encoding":{
  "x":{"field":"x","type":"quantitative","scale":{"domain":[-4.892,27.416],"nice":false,"zero":false},
   "axis":{"orient":"bottom","values":[0,5,10,15,20,25],"labels":false,"domain":true,"domainWidth":6,"ticks":true,"tickSize":-14,"tickWidth":3.5,"title":null}},
  "x2":{"field":"x2"},
  "y":{"field":"y","type":"quantitative","scale":{"domain":[-0.383,4.006],"nice":false,"zero":false},
   "axis":{"orient":"left","values":[0,1,2,3,4],"labels":false,"domain":true,"domainWidth":6,"ticks":true,"tickSize":-14,"tickWidth":3.5,"title":null}},
  "y2":{"field":"y2"}
 }},
{"data":{"values":[{"x":2.39,"x2":3.82,"y":3.558}]},
 "mark":{"type":"rule","color":"black","strokeWidth":2.5},
 "encoding":{
  "x":{"field":"x","type":"quantitative","scale":{"domain":[-4.892,27.416],"nice":false,"zero":false},
   "axis":{"orient":"bottom","values":[-4,-3,-2,-1,1,2,3,4,6,7,8,9,11,12,13,14,16,17,18,19,21,22,23,24,26,27],"labels":false,"domain":false,"ticks":true,"tickSize":-8,"tickWidth":3,"title":null}},
  "x2":{"field":"x2"},
  "y":{"field":"y","type":"quantitative","scale":{"domain":[-0.383,4.006],"nice":false,"zero":false},
   "axis":{"orient":"left","values":[-0.2,0.2,0.4,0.6,0.8,1.2,1.4,1.6,1.8,2.2,2.4,2.6,2.8,3.2,3.4,3.6,3.8],"labels":false,"domain":false,"ticks":true,"tickSize":-8,"tickWidth":3,"title":null}}
 }},
{"data":{"values":[{"x":3.89,"y":3.558}]},
 "mark":{"type":"point","shape":"triangle-right","filled":true,"color":"black","size":190,"opacity":1},
 "encoding":{
  "x":{"field":"x","type":"quantitative","scale":{"domain":[-4.892,27.416],"nice":false,"zero":false},
   "axis":{"orient":"top","labels":false,"ticks":false,"domain":true,"domainWidth":6,"title":null,"values":[]}},
  "y":{"field":"y","type":"quantitative","scale":{"domain":[-0.383,4.006],"nice":false,"zero":false},"axis":null}
 }},
{"data":{"values":[{"t":"1/1","x":0.56,"y":3.532},{"t":"CH₄/CO₂","x":0.71,"y":3.273}]},
 "mark":{"type":"text","fontSize":30,"align":"center","baseline":"alphabetic","color":"black","font":"Liberation Sans"},
 "encoding":{
  "x":{"field":"x","type":"quantitative","scale":{"domain":[-4.892,27.416],"nice":false,"zero":false},"axis":null},
  "y":{"field":"y","type":"quantitative","scale":{"domain":[-0.383,4.006],"nice":false,"zero":false},"axis":null},
  "text":{"field":"t"}
 }}
]
}
